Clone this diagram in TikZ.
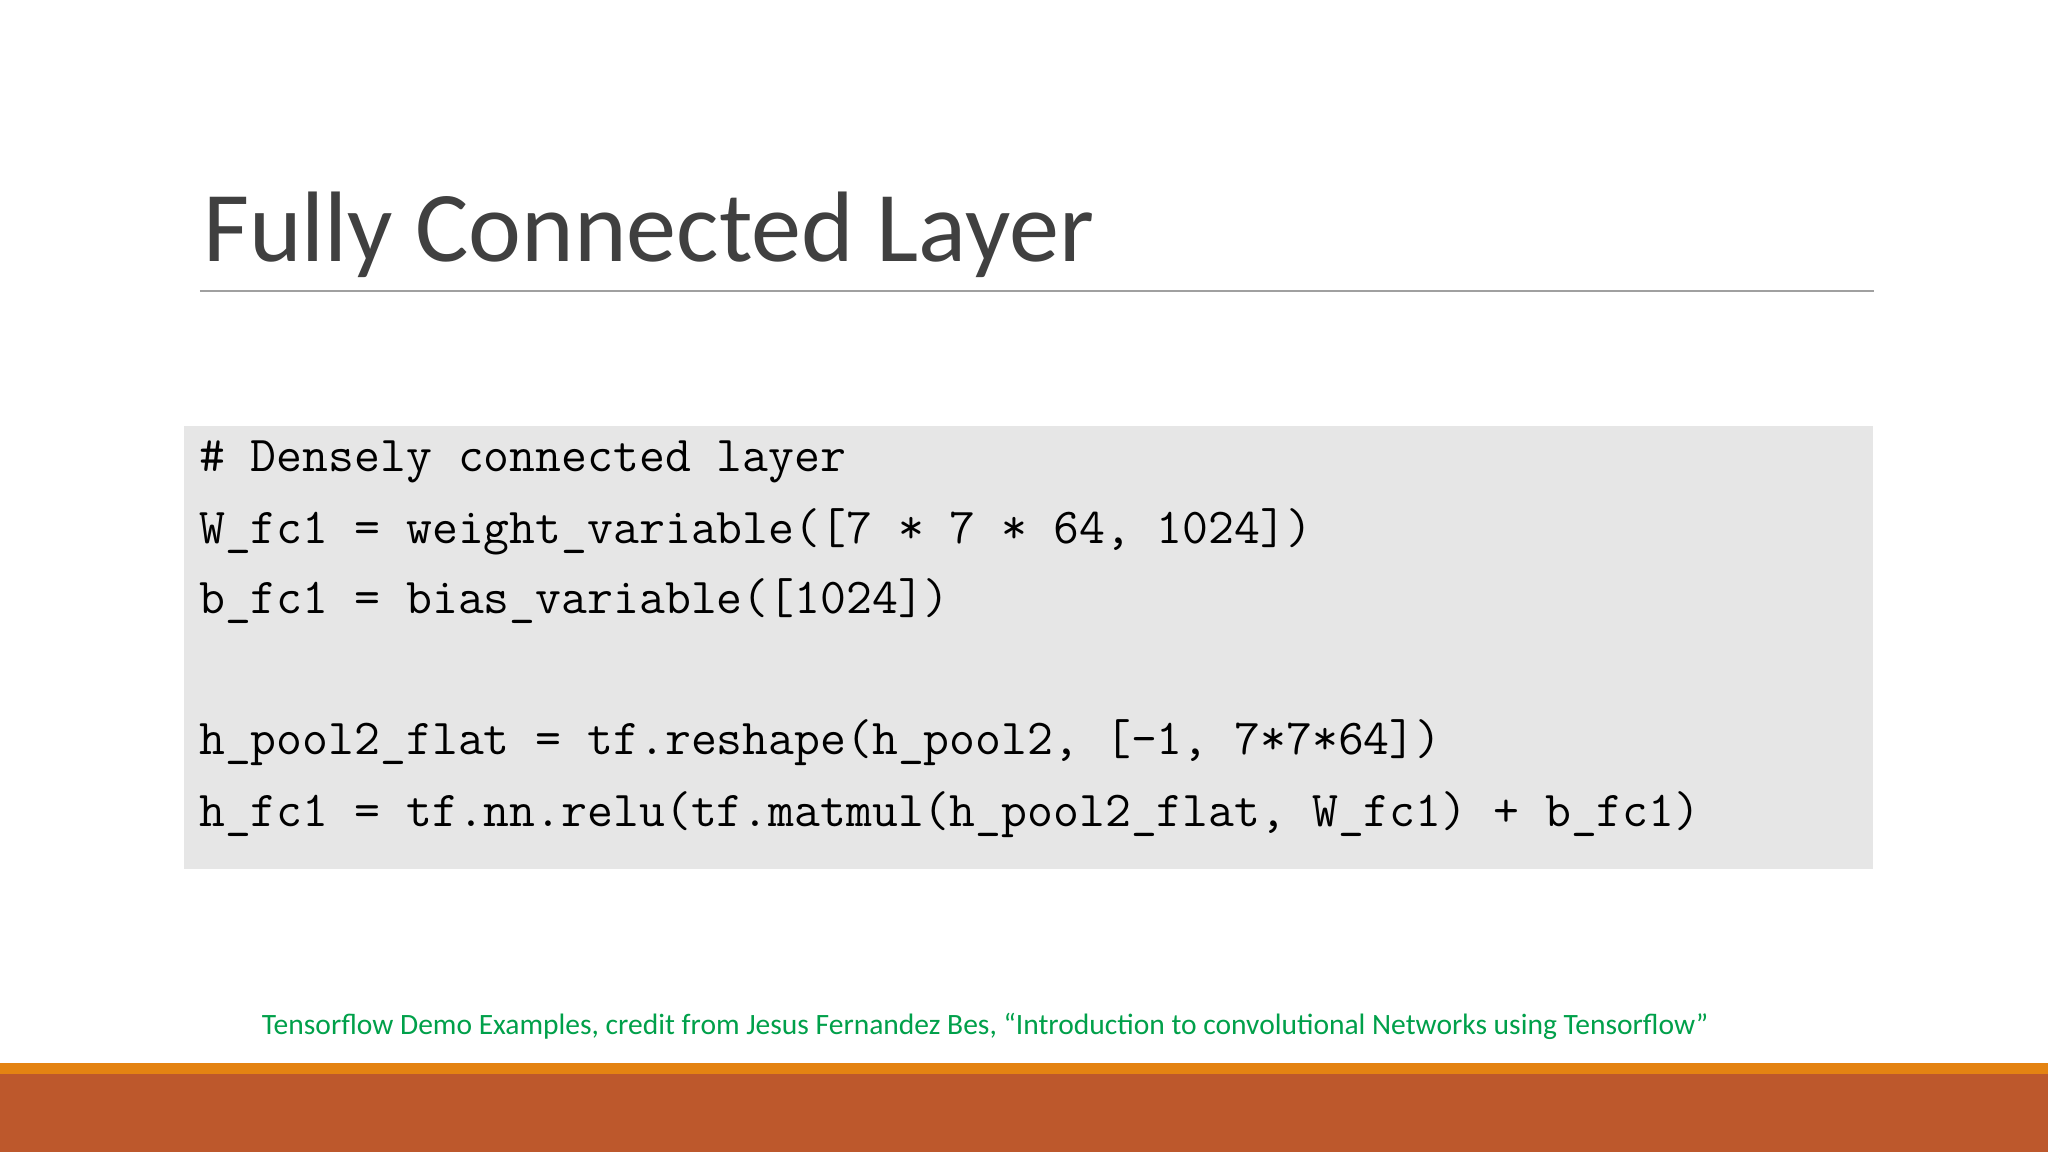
\documentclass[tikz,border=0pt]{standalone}
\usepackage{fontspec}
\setmainfont{Carlito}
\definecolor{titlegray}{HTML}{404040}
\definecolor{rulegray}{HTML}{A0A0A0}
\definecolor{codebg}{HTML}{E6E6E6}
\definecolor{credgreen}{HTML}{00A04A}
\definecolor{barorange}{HTML}{E48312}
\definecolor{barrust}{HTML}{BD582C}
\begin{document}
\begin{tikzpicture}[x=0.013061cm,y=-0.013061cm,
  codeline/.style={anchor=base west,inner sep=0pt,font=\ttfamily\fontsize{14.3}{16}\selectfont}]
\useasboundingbox (0,0) rectangle (1568,882);
\fill[white] (0,0) rectangle (1568,882);
\node[anchor=base west,inner sep=0pt,text=titlegray,font=\fontsize{28.5}{32}\selectfont] (title) at (155,200) {Fully Connected Layer};
\draw[rulegray,line width=0.6pt] (153,223) -- (1435,223);
\fill[codebg] (141,326) rectangle (1434,665);
\node[codeline] (l1) at (152,361) {\# Densely connected layer};
\node[codeline] (l2) at (152,416) {W\_fc1 = weight\_variable([7 * 7 * 64, 1024])};
\node[codeline] (l3) at (152,470) {b\_fc1 = bias\_variable([1024])};
\node[codeline] (l4) at (152,578) {h\_pool2\_flat = tf.reshape(h\_pool2, [-1, 7*7*64])};
\node[codeline] (l5) at (152,633) {h\_fc1 = tf.nn.relu(tf.matmul(h\_pool2\_flat, W\_fc1) + b\_fc1)};
\node[anchor=base west,inner sep=0pt,text=credgreen,font=\fontsize{8.4}{10}\selectfont] (cred) at (200,792) {Tensorflow Demo Examples, credit from Jesus Fernandez Bes, “Introduction to convolutional Networks using Tensorflow”};
\fill[barorange] (0,814) rectangle (1568,823);
\fill[barrust] (0,822) rectangle (1568,882);
\end{tikzpicture}
\end{document}
